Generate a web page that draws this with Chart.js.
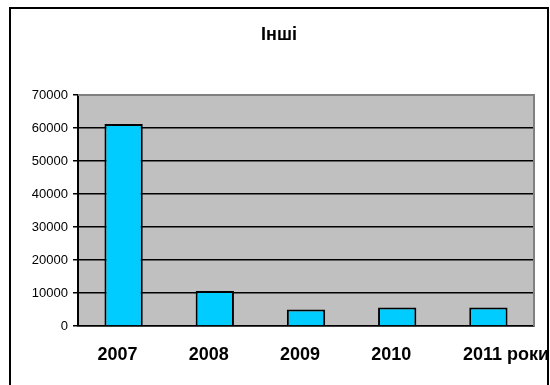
<!DOCTYPE html>
<html>
<head>
<meta charset="utf-8">
<title>Інші</title>
<script src="https://cdn.jsdelivr.net/npm/chart.js@4.4.0/dist/chart.umd.min.js"></script>
<style>
  html, body { margin: 0; padding: 0; background: #fff; }
  #wrap { width: 550px; height: 385px; }
</style>
</head>
<body>
<div id="wrap"><canvas id="myChart" width="550" height="385"></canvas></div>
<script>
// Data
const years = ['2007', '2008', '2009', '2010', '2011'];
const values = [61200, 10600, 5000, 5600, 5600];
const yTicks = [0, 10000, 20000, 30000, 40000, 50000, 60000, 70000];
const chartTitle = 'Інші';
const axisUnit = 'роки';

Chart.defaults.font.family = 'Arial, "Liberation Sans", sans-serif';
Chart.defaults.color = '#000000';

// Frame round the whole chart, silver plot area, gray top/right edge, unit label
const decor = {
  id: 'decor',
  beforeDraw(chart) {
    const c = chart.ctx;
    const a = chart.chartArea;
    c.save();
    c.fillStyle = '#ffffff';
    c.fillRect(0, 0, chart.width, chart.height);
    c.strokeStyle = '#000000';
    c.lineWidth = 2;
    c.strokeRect(10, 8, 538, 400);
    c.fillStyle = '#C0C0C0';
    c.fillRect(a.left, a.top, a.right - a.left, a.bottom - a.top);
    c.restore();
  },
  beforeDatasetsDraw(chart) {
    const c = chart.ctx;
    const a = chart.chartArea;
    c.save();
    c.strokeStyle = '#808080';
    c.lineWidth = 2;
    c.beginPath();
    c.moveTo(a.left, a.top);
    c.lineTo(a.right, a.top);
    c.lineTo(a.right, a.bottom);
    c.stroke();
    c.restore();
  },
  afterDraw(chart) {
    const c = chart.ctx;
    const x = chart.scales.x;
    c.save();
    c.font = 'bold 18px Arial, "Liberation Sans", sans-serif';
    c.fillStyle = '#000000';
    c.textAlign = 'right';
    c.textBaseline = 'middle';
    c.fillText(axisUnit, 549, x.top + 29);
    c.restore();
  }
};

const ctx = document.getElementById('myChart').getContext('2d');
const myChart = new Chart(ctx, {
  type: 'bar',
  data: {
    labels: years,
    datasets: [{
      data: values,
      backgroundColor: '#00CCFF',
      borderColor: '#000000',
      borderWidth: 2,
      categoryPercentage: 1,
      barPercentage: 0.42
    }]
  },
  options: {
    responsive: false,
    animation: false,
    layout: { padding: { left: 24, right: 16, top: 0, bottom: 0 } },
    plugins: {
      legend: { display: false },
      tooltip: { enabled: false },
      title: {
        display: true,
        text: chartTitle,
        color: '#000000',
        font: { size: 18, weight: 'bold', lineHeight: 1 },
        padding: { top: 26, bottom: 51 }
      }
    },
    scales: {
      x: {
        grid: { display: false, drawTicks: false },
        border: { display: true, color: '#000000', width: 1.5 },
        ticks: {
          color: '#000000',
          font: { size: 18, weight: 'bold' },
          padding: 18,
          labelOffset: -6
        },
        afterFit(scale) { scale.height = 59; }
      },
      y: {
        min: 0,
        max: 70000,
        afterBuildTicks(scale) {
          scale.ticks = yTicks.map(v => ({ value: v }));
        },
        grid: {
          color: c => (c.tick && c.tick.value === 70000) ? 'rgba(0,0,0,0)' : '#000000',
          tickColor: '#000000',
          lineWidth: 1.5,
          tickLength: 5
        },
        border: { display: true, color: '#000000', width: 2 },
        ticks: {
          color: '#000000',
          font: { size: 13 },
          padding: 5,
          callback: v => String(v)
        },
        afterFit(scale) { scale.width = 54; }
      }
    }
  },
  plugins: [decor]
});
</script>
</body>
</html>
